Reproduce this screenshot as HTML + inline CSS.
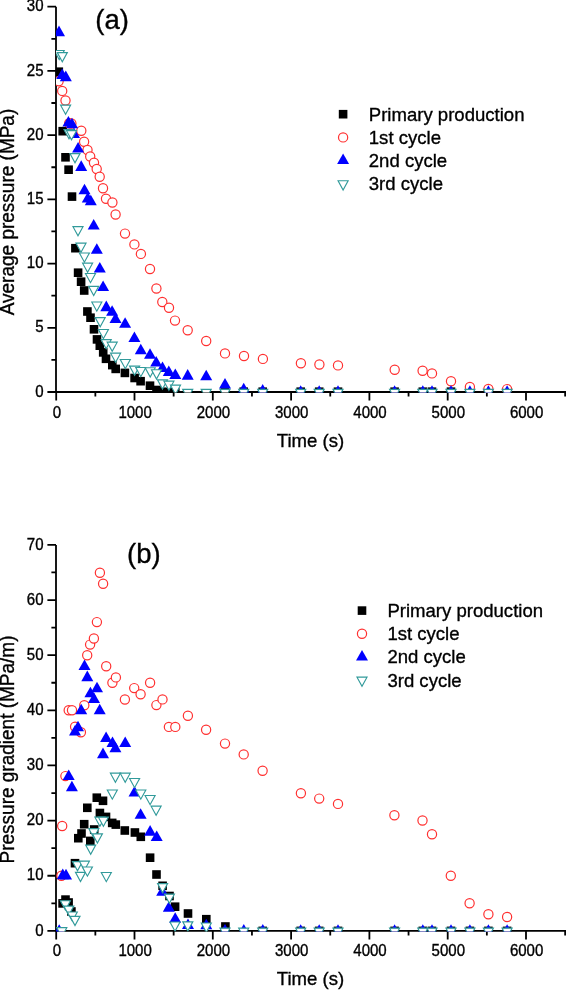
<!DOCTYPE html>
<html><head><meta charset="utf-8"><style>
html,body{margin:0;padding:0;background:#fff;}
body{width:566px;height:990px;overflow:hidden;}
svg{display:block;will-change:transform;}
text{font-family:"Liberation Sans",sans-serif;fill:#000;stroke:#000;stroke-width:0.35px;}
</style></head><body>
<svg width="566" height="990" viewBox="0 0 566 990">
<rect width="566" height="990" fill="#fff"/>

<g stroke="#000" stroke-width="1.8" fill="none">
<path d="M56 6.7V392H566"/>
<path d="M47.4 392H56M51.4 359.89H56M47.4 327.78H56M51.4 295.68H56M47.4 263.57H56M51.4 231.46H56M47.4 199.35H56M51.4 167.24H56M47.4 135.13H56M51.4 103.02H56M47.4 70.92H56M51.4 38.81H56M47.4 6.7H56M56.2 392V400.6M95.35 392V396.6M134.5 392V400.6M173.65 392V396.6M212.8 392V400.6M251.95 392V396.6M291.1 392V400.6M330.25 392V396.6M369.4 392V400.6M408.55 392V396.6M447.7 392V400.6M486.85 392V396.6M526 392V400.6M565.15 392V396.6"/>
</g>
<g font-size="15.5" text-anchor="end">
<text transform="translate(43.5 396.6) scale(0.97 1.04)">0</text>
<text transform="translate(43.5 332.38) scale(0.97 1.04)">5</text>
<text transform="translate(43.5 268.17) scale(0.97 1.04)">10</text>
<text transform="translate(43.5 203.95) scale(0.97 1.04)">15</text>
<text transform="translate(43.5 139.73) scale(0.97 1.04)">20</text>
<text transform="translate(43.5 75.52) scale(0.97 1.04)">25</text>
<text transform="translate(43.5 11.3) scale(0.97 1.04)">30</text>
</g><g font-size="15.5" text-anchor="middle">
<text transform="translate(56.8 417.8) scale(0.97 1.04)">0</text>
<text transform="translate(135.1 417.8) scale(0.97 1.04)">1000</text>
<text transform="translate(213.4 417.8) scale(0.97 1.04)">2000</text>
<text transform="translate(291.7 417.8) scale(0.97 1.04)">3000</text>
<text transform="translate(370 417.8) scale(0.97 1.04)">4000</text>
<text transform="translate(448.3 417.8) scale(0.97 1.04)">5000</text>
<text transform="translate(526.6 417.8) scale(0.97 1.04)">6000</text>
</g>
<g stroke="#000" stroke-width="1.8" fill="none">
<path d="M56 544.9V930.9H566"/>
<path d="M47.4 930.9H56M51.4 903.33H56M47.4 875.76H56M51.4 848.19H56M47.4 820.61H56M51.4 793.04H56M47.4 765.47H56M51.4 737.9H56M47.4 710.33H56M51.4 682.76H56M47.4 655.19H56M51.4 627.61H56M47.4 600.04H56M51.4 572.47H56M47.4 544.9H56M56.2 930.9V939.5M95.35 930.9V935.5M134.5 930.9V939.5M173.65 930.9V935.5M212.8 930.9V939.5M251.95 930.9V935.5M291.1 930.9V939.5M330.25 930.9V935.5M369.4 930.9V939.5M408.55 930.9V935.5M447.7 930.9V939.5M486.85 930.9V935.5M526 930.9V939.5M565.15 930.9V935.5"/>
</g>
<g font-size="15.5" text-anchor="end">
<text transform="translate(43.5 935.5) scale(0.97 1.04)">0</text>
<text transform="translate(43.5 880.36) scale(0.97 1.04)">10</text>
<text transform="translate(43.5 825.21) scale(0.97 1.04)">20</text>
<text transform="translate(43.5 770.07) scale(0.97 1.04)">30</text>
<text transform="translate(43.5 714.93) scale(0.97 1.04)">40</text>
<text transform="translate(43.5 659.79) scale(0.97 1.04)">50</text>
<text transform="translate(43.5 604.64) scale(0.97 1.04)">60</text>
<text transform="translate(43.5 549.5) scale(0.97 1.04)">70</text>
</g><g font-size="15.5" text-anchor="middle">
<text transform="translate(56.8 955.85) scale(0.97 1.04)">0</text>
<text transform="translate(135.1 955.85) scale(0.97 1.04)">1000</text>
<text transform="translate(213.4 955.85) scale(0.97 1.04)">2000</text>
<text transform="translate(291.7 955.85) scale(0.97 1.04)">3000</text>
<text transform="translate(370 955.85) scale(0.97 1.04)">4000</text>
<text transform="translate(448.3 955.85) scale(0.97 1.04)">5000</text>
<text transform="translate(526.6 955.85) scale(0.97 1.04)">6000</text>
</g>
<defs><clipPath id="ca"><rect x="56" y="0" width="510" height="392.5"/></clipPath><clipPath id="cb"><rect x="56" y="500" width="510" height="431.4"/></clipPath></defs>
<g clip-path="url(#ca)">
<g fill="#000"><rect x="54.5" y="67.4" width="8.6" height="8.6"/><rect x="58.4" y="126.9" width="8.6" height="8.6"/><rect x="61.2" y="153" width="8.6" height="8.6"/><rect x="64.3" y="165.4" width="8.6" height="8.6"/><rect x="67.7" y="192.3" width="8.6" height="8.6"/><rect x="71.1" y="243.9" width="8.6" height="8.6"/><rect x="73.8" y="268.4" width="8.6" height="8.6"/><rect x="76.8" y="277.4" width="8.6" height="8.6"/><rect x="79.9" y="286.2" width="8.6" height="8.6"/><rect x="83.1" y="307.2" width="8.6" height="8.6"/><rect x="86.2" y="313.4" width="8.6" height="8.6"/><rect x="89.7" y="325" width="8.6" height="8.6"/><rect x="92.7" y="335.1" width="8.6" height="8.6"/><rect x="95.5" y="341.4" width="8.6" height="8.6"/><rect x="98.9" y="348.1" width="8.6" height="8.6"/><rect x="101.7" y="354.5" width="8.6" height="8.6"/><rect x="108" y="360.8" width="8.6" height="8.6"/><rect x="111.4" y="364.6" width="8.6" height="8.6"/><rect x="120.6" y="368.6" width="8.6" height="8.6"/><rect x="130.3" y="373.7" width="8.6" height="8.6"/><rect x="136.3" y="376.9" width="8.6" height="8.6"/><rect x="145.7" y="381.4" width="8.6" height="8.6"/><rect x="152.2" y="385.7" width="8.6" height="8.6"/><rect x="158.2" y="387.5" width="8.6" height="8.6"/><rect x="164.2" y="387.9" width="8.6" height="8.6"/><rect x="171" y="388.2" width="8.6" height="8.6"/><rect x="220.7" y="387.4" width="8.6" height="8.6"/><rect x="239.4" y="387.4" width="8.6" height="8.6"/><rect x="258.4" y="387.4" width="8.6" height="8.6"/><rect x="296.4" y="387.4" width="8.6" height="8.6"/><rect x="314.9" y="387.4" width="8.6" height="8.6"/><rect x="333.7" y="387.4" width="8.6" height="8.6"/><rect x="390.3" y="387.4" width="8.6" height="8.6"/><rect x="418.5" y="387.4" width="8.6" height="8.6"/><rect x="427.7" y="387.4" width="8.6" height="8.6"/><rect x="446.7" y="387.4" width="8.6" height="8.6"/><rect x="465.6" y="387.4" width="8.6" height="8.6"/><rect x="484.1" y="387.4" width="8.6" height="8.6"/><rect x="502.8" y="387.4" width="8.6" height="8.6"/></g>
<g fill="#fff" stroke="#ff3030" stroke-width="1.2"><circle cx="58.6" cy="81.2" r="4.6"/><circle cx="62.2" cy="90.9" r="4.6"/><circle cx="65.5" cy="100.5" r="4.6"/><circle cx="69.2" cy="123.2" r="4.6"/><circle cx="71.4" cy="123.5" r="4.6"/><circle cx="81.3" cy="130.7" r="4.6"/><circle cx="84.1" cy="141.8" r="4.6"/><circle cx="87.5" cy="150" r="4.6"/><circle cx="90.2" cy="156.5" r="4.6"/><circle cx="94" cy="162.8" r="4.6"/><circle cx="96.7" cy="169" r="4.6"/><circle cx="99.7" cy="176.7" r="4.6"/><circle cx="103" cy="188.2" r="4.6"/><circle cx="106" cy="198.8" r="4.6"/><circle cx="112.4" cy="202.5" r="4.6"/><circle cx="115.6" cy="214.5" r="4.6"/><circle cx="125" cy="233.6" r="4.6"/><circle cx="134.4" cy="244.4" r="4.6"/><circle cx="140.9" cy="253.9" r="4.6"/><circle cx="150" cy="269" r="4.6"/><circle cx="156.4" cy="288.5" r="4.6"/><circle cx="162.3" cy="302" r="4.6"/><circle cx="169" cy="307.7" r="4.6"/><circle cx="175" cy="320.6" r="4.6"/><circle cx="187.7" cy="330.3" r="4.6"/><circle cx="206.2" cy="341" r="4.6"/><circle cx="225" cy="353.4" r="4.6"/><circle cx="244" cy="356" r="4.6"/><circle cx="262.9" cy="358.9" r="4.6"/><circle cx="300.9" cy="363.3" r="4.6"/><circle cx="319.4" cy="364.5" r="4.6"/><circle cx="338" cy="365.4" r="4.6"/><circle cx="394.7" cy="369.7" r="4.6"/><circle cx="422.6" cy="370.7" r="4.6"/><circle cx="432" cy="373.4" r="4.6"/><circle cx="451" cy="381.2" r="4.6"/><circle cx="469.9" cy="386.9" r="4.6"/><circle cx="488.4" cy="388.9" r="4.6"/><circle cx="507.1" cy="389.1" r="4.6"/></g>
<g fill="#0000ff"><path d="M59 25.6L65 36.2L53 36.2Z"/><path d="M62.2 68.5L68.2 79.1L56.2 79.1Z"/><path d="M65.8 70.6L71.8 81.2L59.8 81.2Z"/><path d="M68.4 116L74.4 126.6L62.4 126.6Z"/><path d="M72 117.7L78 128.3L66 128.3Z"/><path d="M74 127.5L80 138.1L68 138.1Z"/><path d="M78.1 142L84.1 152.6L72.1 152.6Z"/><path d="M81.2 160.3L87.2 170.9L75.2 170.9Z"/><path d="M84.5 183.7L90.5 194.3L78.5 194.3Z"/><path d="M87.8 192L93.8 202.6L81.8 202.6Z"/><path d="M90.8 194.7L96.8 205.3L84.8 205.3Z"/><path d="M93.7 219L99.7 229.6L87.7 229.6Z"/><path d="M96.8 243.2L102.8 253.8L90.8 253.8Z"/><path d="M99.8 261.9L105.8 272.5L93.8 272.5Z"/><path d="M103.1 280.4L109.1 291L97.1 291Z"/><path d="M106.3 300.6L112.3 311.2L100.3 311.2Z"/><path d="M112.1 305.2L118.1 315.8L106.1 315.8Z"/><path d="M115.5 312.4L121.5 323L109.5 323Z"/><path d="M125.1 317.2L131.1 327.8L119.1 327.8Z"/><path d="M134.4 331.5L140.4 342.1L128.4 342.1Z"/><path d="M140.8 343.7L146.8 354.3L134.8 354.3Z"/><path d="M150 348.2L156 358.8L144 358.8Z"/><path d="M156.2 355.9L162.2 366.5L150.2 366.5Z"/><path d="M162.5 361.5L168.5 372.1L156.5 372.1Z"/><path d="M168.8 365.4L174.8 376L162.8 376Z"/><path d="M175.3 368.5L181.3 379.1L169.3 379.1Z"/><path d="M187.7 369.1L193.7 379.7L181.7 379.7Z"/><path d="M206.2 369.7L212.2 380.3L200.2 380.3Z"/><path d="M225 377.9L231 388.5L219 388.5Z"/><path d="M243.7 382.7L249.7 393.3L237.7 393.3Z"/><path d="M262.7 384.1L268.7 394.7L256.7 394.7Z"/><path d="M300.7 385.2L306.7 395.8L294.7 395.8Z"/><path d="M319.2 385.2L325.2 395.8L313.2 395.8Z"/><path d="M338 385.2L344 395.8L332 395.8Z"/><path d="M394.6 385.2L400.6 395.8L388.6 395.8Z"/><path d="M422.8 385.2L428.8 395.8L416.8 395.8Z"/><path d="M432 385.2L438 395.8L426 395.8Z"/><path d="M451 385.2L457 395.8L445 395.8Z"/><path d="M469.9 385.2L475.9 395.8L463.9 395.8Z"/><path d="M488.4 385.2L494.4 395.8L482.4 395.8Z"/><path d="M507.1 385.2L513.1 395.8L501.1 395.8Z"/></g>
<g fill="#fff" stroke="#319a9a" stroke-width="1.15" stroke-linejoin="miter"><path d="M54.18 50.48L64.22 50.48L59.2 59.66Z"/><path d="M57.28 52.58L67.32 52.58L62.3 61.77Z"/><path d="M60.58 105.17L70.62 105.17L65.6 114.37Z"/><path d="M63.98 129.67L74.02 129.67L69 138.87Z"/><path d="M66.48 130.67L76.52 130.67L71.5 139.87Z"/><path d="M69.98 153.57L80.02 153.57L75 162.77Z"/><path d="M72.98 226.67L83.02 226.67L78 235.87Z"/><path d="M75.98 243.17L86.02 243.17L81 252.37Z"/><path d="M79.38 252.97L89.42 252.97L84.4 262.16Z"/><path d="M82.58 263.18L92.62 263.18L87.6 272.36Z"/><path d="M85.48 273.48L95.52 273.48L90.5 282.66Z"/><path d="M88.68 286.38L98.72 286.38L93.7 295.56Z"/><path d="M91.78 301.98L101.82 301.98L96.8 311.16Z"/><path d="M95.18 317.57L105.22 317.57L100.2 326.76Z"/><path d="M98.38 329.48L108.42 329.48L103.4 338.66Z"/><path d="M101.18 339.68L111.22 339.68L106.2 348.86Z"/><path d="M107.18 342.18L117.22 342.18L112.2 351.36Z"/><path d="M110.58 353.18L120.62 353.18L115.6 362.36Z"/><path d="M120.28 359.48L130.32 359.48L125.3 368.66Z"/><path d="M129.58 366.07L139.62 366.07L134.6 375.26Z"/><path d="M135.78 367.48L145.82 367.48L140.8 376.66Z"/><path d="M145.18 367.78L155.22 367.78L150.2 376.96Z"/><path d="M151.48 369.78L161.52 369.78L156.5 378.96Z"/><path d="M157.48 379.88L167.52 379.88L162.5 389.06Z"/><path d="M163.88 381.18L173.92 381.18L168.9 390.36Z"/><path d="M170.48 385.18L180.52 385.18L175.5 394.36Z"/><path d="M182.68 389.38L192.72 389.38L187.7 398.56Z"/><path d="M201.18 389.38L211.22 389.38L206.2 398.56Z"/><path d="M219.98 389.38L230.02 389.38L225 398.56Z"/><path d="M238.68 389.38L248.72 389.38L243.7 398.56Z"/><path d="M257.68 389.38L267.72 389.38L262.7 398.56Z"/><path d="M295.68 389.38L305.72 389.38L300.7 398.56Z"/><path d="M314.18 389.38L324.22 389.38L319.2 398.56Z"/><path d="M332.98 389.38L343.02 389.38L338 398.56Z"/><path d="M389.58 389.38L399.62 389.38L394.6 398.56Z"/><path d="M417.78 389.38L427.82 389.38L422.8 398.56Z"/><path d="M426.98 389.38L437.02 389.38L432 398.56Z"/><path d="M445.98 389.38L456.02 389.38L451 398.56Z"/><path d="M464.88 389.38L474.92 389.38L469.9 398.56Z"/><path d="M483.38 389.38L493.42 389.38L488.4 398.56Z"/><path d="M502.08 389.38L512.12 389.38L507.1 398.56Z"/></g>
</g>
<g clip-path="url(#cb)">
<g fill="#000"><rect x="58.3" y="899.1" width="8.6" height="8.6"/><rect x="61.2" y="895.3" width="8.6" height="8.6"/><rect x="64.3" y="898.2" width="8.6" height="8.6"/><rect x="67.1" y="907.2" width="8.6" height="8.6"/><rect x="70.7" y="858.9" width="8.6" height="8.6"/><rect x="74" y="833.9" width="8.6" height="8.6"/><rect x="77.2" y="829.2" width="8.6" height="8.6"/><rect x="79.9" y="819.9" width="8.6" height="8.6"/><rect x="83" y="803.5" width="8.6" height="8.6"/><rect x="86" y="836.6" width="8.6" height="8.6"/><rect x="89.9" y="825.2" width="8.6" height="8.6"/><rect x="92.5" y="793.4" width="8.6" height="8.6"/><rect x="95.6" y="808.7" width="8.6" height="8.6"/><rect x="98.7" y="796.5" width="8.6" height="8.6"/><rect x="101.7" y="812.6" width="8.6" height="8.6"/><rect x="107.9" y="818.6" width="8.6" height="8.6"/><rect x="111.5" y="820.3" width="8.6" height="8.6"/><rect x="120.5" y="826.2" width="8.6" height="8.6"/><rect x="130.6" y="828.2" width="8.6" height="8.6"/><rect x="136.5" y="832.5" width="8.6" height="8.6"/><rect x="145.8" y="853.4" width="8.6" height="8.6"/><rect x="152.2" y="870.2" width="8.6" height="8.6"/><rect x="158.3" y="881.5" width="8.6" height="8.6"/><rect x="165.2" y="891.7" width="8.6" height="8.6"/><rect x="170.8" y="902.4" width="8.6" height="8.6"/><rect x="183.7" y="909.2" width="8.6" height="8.6"/><rect x="202" y="914.9" width="8.6" height="8.6"/><rect x="221.1" y="922.2" width="8.6" height="8.6"/><rect x="258.4" y="926.6" width="8.6" height="8.6"/><rect x="296.4" y="926.6" width="8.6" height="8.6"/><rect x="314.9" y="926.6" width="8.6" height="8.6"/><rect x="333.7" y="926.6" width="8.6" height="8.6"/><rect x="390.3" y="926.6" width="8.6" height="8.6"/><rect x="418.5" y="926.6" width="8.6" height="8.6"/><rect x="427.7" y="926.6" width="8.6" height="8.6"/><rect x="446.7" y="926.6" width="8.6" height="8.6"/><rect x="465.6" y="926.6" width="8.6" height="8.6"/><rect x="484.1" y="926.6" width="8.6" height="8.6"/><rect x="502.8" y="926.6" width="8.6" height="8.6"/></g>
<g fill="#fff" stroke="#ff3030" stroke-width="1.2"><circle cx="61.4" cy="875.8" r="4.6"/><circle cx="62.2" cy="826" r="4.6"/><circle cx="65.4" cy="776.1" r="4.6"/><circle cx="68.7" cy="710.3" r="4.6"/><circle cx="72" cy="710.3" r="4.6"/><circle cx="75.1" cy="726.8" r="4.6"/><circle cx="80.9" cy="732.3" r="4.6"/><circle cx="84.3" cy="705.3" r="4.6"/><circle cx="87.2" cy="655.2" r="4.6"/><circle cx="90.1" cy="644.6" r="4.6"/><circle cx="93.9" cy="638.5" r="4.6"/><circle cx="96.9" cy="622.1" r="4.6"/><circle cx="99.9" cy="572.7" r="4.6"/><circle cx="103.1" cy="583.7" r="4.6"/><circle cx="106.2" cy="666.3" r="4.6"/><circle cx="112.4" cy="682.8" r="4.6"/><circle cx="115.9" cy="677.4" r="4.6"/><circle cx="124.9" cy="699.5" r="4.6"/><circle cx="134.2" cy="688.1" r="4.6"/><circle cx="140.6" cy="694.2" r="4.6"/><circle cx="150.1" cy="682.7" r="4.6"/><circle cx="156.4" cy="705.1" r="4.6"/><circle cx="162.5" cy="699.4" r="4.6"/><circle cx="168.9" cy="726.9" r="4.6"/><circle cx="175.3" cy="726.9" r="4.6"/><circle cx="187.9" cy="715.8" r="4.6"/><circle cx="206.1" cy="729.8" r="4.6"/><circle cx="225" cy="743.6" r="4.6"/><circle cx="243.7" cy="754.4" r="4.6"/><circle cx="262.6" cy="770.8" r="4.6"/><circle cx="300.9" cy="793.3" r="4.6"/><circle cx="319.2" cy="798.6" r="4.6"/><circle cx="338" cy="803.9" r="4.6"/><circle cx="394.4" cy="815.2" r="4.6"/><circle cx="422.5" cy="820.5" r="4.6"/><circle cx="432" cy="834.3" r="4.6"/><circle cx="450.8" cy="875.8" r="4.6"/><circle cx="469.6" cy="903.2" r="4.6"/><circle cx="488.4" cy="914.3" r="4.6"/><circle cx="507.1" cy="917" r="4.6"/></g>
<g fill="#0000ff"><path d="M59.2 924.2L65.2 934.8L53.2 934.8Z"/><path d="M62.8 868.6L68.8 879.2L56.8 879.2Z"/><path d="M66 868.8L72 879.4L60 879.4Z"/><path d="M68.7 769.4L74.7 780L62.7 780Z"/><path d="M71.9 780.7L77.9 791.3L65.9 791.3Z"/><path d="M75 724.9L81 735.5L69 735.5Z"/><path d="M78 720.7L84 731.3L72 731.3Z"/><path d="M81.2 703.7L87.2 714.3L75.2 714.3Z"/><path d="M84.5 659.4L90.5 670L78.5 670Z"/><path d="M87.3 670.6L93.3 681.2L81.3 681.2Z"/><path d="M90.4 686.7L96.4 697.3L84.4 697.3Z"/><path d="M94 692.4L100 703L88 703Z"/><path d="M97 681.7L103 692.3L91 692.3Z"/><path d="M99.7 703.7L105.7 714.3L93.7 714.3Z"/><path d="M103 747.6L109 758.2L97 758.2Z"/><path d="M106.1 731.4L112.1 742L100.1 742Z"/><path d="M112.5 736.4L118.5 747L106.5 747Z"/><path d="M115.4 741.7L121.4 752.3L109.4 752.3Z"/><path d="M125.2 736.4L131.2 747L119.2 747Z"/><path d="M134.5 786L140.5 796.6L128.5 796.6Z"/><path d="M140.6 808.2L146.6 818.8L134.6 818.8Z"/><path d="M150.1 825.1L156.1 835.7L144.1 835.7Z"/><path d="M156.7 830.4L162.7 841L150.7 841Z"/><path d="M162.2 885.2L168.2 895.8L156.2 895.8Z"/><path d="M168.8 901.2L174.8 911.8L162.8 911.8Z"/><path d="M175.2 912.2L181.2 922.8L169.2 922.8Z"/><path d="M188 918.4L194 929L182 929Z"/><path d="M206.3 918.7L212.3 929.3L200.3 929.3Z"/><path d="M225 923.9L231 934.5L219 934.5Z"/><path d="M243.8 923.9L249.8 934.5L237.8 934.5Z"/><path d="M262.8 923.9L268.8 934.5L256.8 934.5Z"/><path d="M300.7 924.2L306.7 934.8L294.7 934.8Z"/><path d="M319.2 924.2L325.2 934.8L313.2 934.8Z"/><path d="M338 924.2L344 934.8L332 934.8Z"/><path d="M394.6 924.2L400.6 934.8L388.6 934.8Z"/><path d="M422.8 924.2L428.8 934.8L416.8 934.8Z"/><path d="M432 924.2L438 934.8L426 934.8Z"/><path d="M451 924.2L457 934.8L445 934.8Z"/><path d="M469.9 924.2L475.9 934.8L463.9 934.8Z"/><path d="M488.4 924.2L494.4 934.8L482.4 934.8Z"/><path d="M507.1 924.2L513.1 934.8L501.1 934.8Z"/></g>
<g fill="#fff" stroke="#319a9a" stroke-width="1.15" stroke-linejoin="miter"><path d="M56.78 927.68L66.82 927.68L61.8 936.87Z"/><path d="M60.38 900.78L70.42 900.78L65.4 909.97Z"/><path d="M63.78 906.08L73.82 906.08L68.8 915.26Z"/><path d="M67.28 911.98L77.32 911.98L72.3 921.16Z"/><path d="M69.98 916.38L80.02 916.38L75 925.57Z"/><path d="M72.48 861.58L82.52 861.58L77.5 870.76Z"/><path d="M75.48 872.38L85.52 872.38L80.5 881.57Z"/><path d="M79.38 861.18L89.42 861.18L84.4 870.37Z"/><path d="M82.38 866.98L92.42 866.98L87.4 876.16Z"/><path d="M85.68 845.08L95.72 845.08L90.7 854.26Z"/><path d="M88.78 828.68L98.82 828.68L93.8 837.87Z"/><path d="M92.38 833.88L102.42 833.88L97.4 843.07Z"/><path d="M94.88 817.18L104.92 817.18L99.9 826.37Z"/><path d="M98.38 817.18L108.42 817.18L103.4 826.37Z"/><path d="M101.28 872.48L111.32 872.48L106.3 881.66Z"/><path d="M107.28 789.98L117.32 789.98L112.3 799.16Z"/><path d="M110.38 773.18L120.42 773.18L115.4 782.37Z"/><path d="M120.18 773.18L130.22 773.18L125.2 782.37Z"/><path d="M129.58 778.48L139.62 778.48L134.6 787.66Z"/><path d="M135.78 789.98L145.82 789.98L140.8 799.16Z"/><path d="M145.08 795.48L155.12 795.48L150.1 804.66Z"/><path d="M151.08 806.18L161.12 806.18L156.1 815.37Z"/><path d="M157.58 883.58L167.62 883.58L162.6 892.76Z"/><path d="M164.38 894.18L174.42 894.18L169.4 903.37Z"/><path d="M169.98 921.98L180.02 921.98L175 931.16Z"/><path d="M182.78 921.88L192.82 921.88L187.8 931.07Z"/><path d="M201.28 922.98L211.32 922.98L206.3 932.16Z"/><path d="M219.98 928.18L230.02 928.18L225 937.37Z"/><path d="M238.68 928.18L248.72 928.18L243.7 937.37Z"/><path d="M257.68 928.18L267.72 928.18L262.7 937.37Z"/><path d="M295.68 928.18L305.72 928.18L300.7 937.37Z"/><path d="M314.18 928.18L324.22 928.18L319.2 937.37Z"/><path d="M332.98 928.18L343.02 928.18L338 937.37Z"/><path d="M389.58 928.18L399.62 928.18L394.6 937.37Z"/><path d="M417.78 928.18L427.82 928.18L422.8 937.37Z"/><path d="M426.98 928.18L437.02 928.18L432 937.37Z"/><path d="M445.98 928.18L456.02 928.18L451 937.37Z"/><path d="M464.88 928.18L474.92 928.18L469.9 937.37Z"/><path d="M483.38 928.18L493.42 928.18L488.4 937.37Z"/><path d="M502.08 928.18L512.12 928.18L507.1 937.37Z"/></g>
</g>
<g fill="#000"><rect x="338.8" y="109.9" width="8.6" height="8.6"/></g>
<g fill="#fff" stroke="#ff3030" stroke-width="1.2"><circle cx="343.1" cy="137.4" r="4.6"/></g>
<g fill="#0000ff"><path d="M343.1 153.5L349.1 164.1L337.1 164.1Z"/></g>
<g fill="#fff" stroke="#319a9a" stroke-width="1.15"><path d="M338.08 180.78L348.12 180.78L343.1 189.97Z"/></g>
<g font-size="19">
<text transform="translate(368.8 120.5) scale(0.977 1)">Primary production</text>
<text transform="translate(368.8 143.7) scale(0.977 1)">1st cycle</text>
<text transform="translate(368.8 166.9) scale(0.977 1)">2nd cycle</text>
<text transform="translate(368.8 190.1) scale(0.977 1)">3rd cycle</text>
</g>
<g fill="#000"><rect x="357.7" y="606.3" width="8.6" height="8.6"/></g>
<g fill="#fff" stroke="#ff3030" stroke-width="1.2"><circle cx="362" cy="633.8" r="4.6"/></g>
<g fill="#0000ff"><path d="M362 649.9L368 660.5L356 660.5Z"/></g>
<g fill="#fff" stroke="#319a9a" stroke-width="1.15"><path d="M356.98 677.18L367.02 677.18L362 686.37Z"/></g>
<g font-size="19">
<text transform="translate(387.4 616.9) scale(0.977 1)">Primary production</text>
<text transform="translate(387.4 640.1) scale(0.977 1)">1st cycle</text>
<text transform="translate(387.4 663.3) scale(0.977 1)">2nd cycle</text>
<text transform="translate(387.4 686.5) scale(0.977 1)">3rd cycle</text>
</g>
<text font-size="19" text-anchor="middle" transform="translate(310.5 446.6) scale(0.977 1)">Time (s)</text>
<text font-size="19" text-anchor="middle" transform="translate(310.5 984.8) scale(0.977 1)">Time (s)</text>
<text font-size="19" text-anchor="middle" transform="translate(14 212) rotate(-90) scale(1 1.045)">Average pressure (MPa)</text>
<text font-size="19" text-anchor="middle" transform="translate(14 749.5) rotate(-90) scale(1 1.045)">Pressure gradient (MPa/m)</text>
<text font-size="27.5" x="95.3" y="29.4">(a)</text>
<text font-size="27.5" x="127.1" y="563">(b)</text>
</svg></body></html>
